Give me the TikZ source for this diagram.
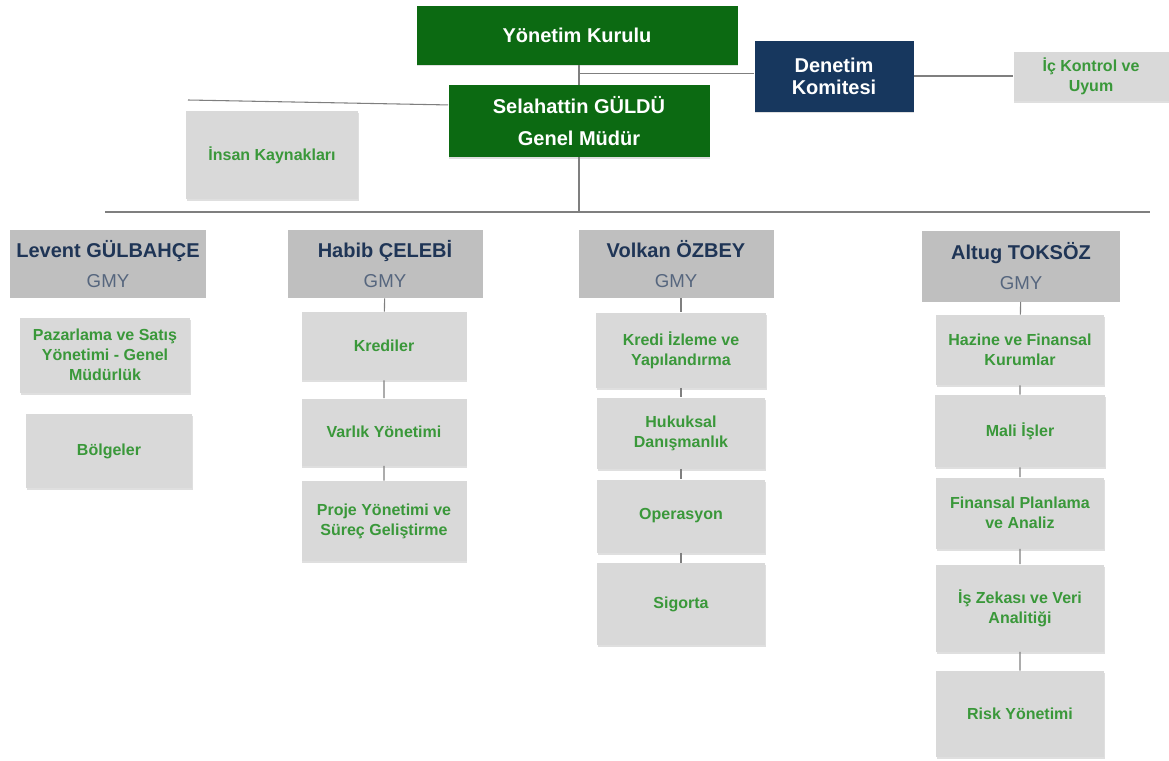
\documentclass[tikz,border=0pt]{standalone}
\usepackage{fontspec}
\setmainfont{Liberation Sans}
\usetikzlibrary{shadows}
\definecolor{boardgreen}{HTML}{0C6A12}
\definecolor{auditnavy}{HTML}{17375E}
\definecolor{unitgray}{HTML}{D9D9D9}
\definecolor{headgray}{HTML}{BFBFBF}
\definecolor{unitgreen}{HTML}{3A983A}
\definecolor{namenavy}{HTML}{1F3556}
\definecolor{gmytext}{HTML}{56667E}
\definecolor{linegray}{HTML}{7F7F7F}
\newcommand{\gmyname}[1]{{\bfseries\fontsize{15}{22}\selectfont\color{namenavy}#1}}

\begin{document}
\begin{tikzpicture}[x=0.75pt,y=-0.75pt,
  sz/.style 2 args={minimum width=#1*0.75pt, minimum height=#2*0.75pt},
  board/.style={fill=boardgreen, text=white, align=center, inner sep=0pt,
    font=\bfseries\fontsize{15}{24}\selectfont,
    drop shadow={shadow xshift=0.6pt, shadow yshift=-1.2pt, opacity=0.25}},
  audit/.style={board, fill=auditnavy, font=\bfseries\fontsize{15}{16.5}\selectfont},
  unit/.style={fill=unitgray, text=unitgreen, align=center, inner sep=0pt,
    font=\bfseries\fontsize{12}{15}\selectfont,
    drop shadow={shadow xshift=0.6pt, shadow yshift=-1.5pt, opacity=0.25}},
  gmy/.style={fill=headgray, text=gmytext, align=center, inner sep=0pt,
    font=\fontsize{14}{22}\selectfont},
  link/.style={draw=linegray, line width=0.8pt}]
\useasboundingbox (0,0) rectangle (1169,760);

% top
\node[board, sz={321}{59}] (yk) at (577,35) {Yönetim Kurulu};
\node[board, sz={261}{72}] (gm) at (579,121) {Selahattin GÜLDÜ\\Genel Müdür};
\node[audit, sz={159}{71}] (dk) at (834,76) {Denetim\\Komitesi};
\node[unit, sz={155}{49}] (ick) at (1091,76) {İç Kontrol ve\\Uyum};
\node[unit, sz={172}{88}] (ik) at (272,155) {İnsan Kaynakları};

\coordinate (ikline) at (188,100);
\coordinate (busl) at (105,212);
\coordinate (busr) at (1150,212);

\draw[link] (yk.south -| gm.north) -- (gm.north);
\draw[link] (dk.178) -- (dk.178 -| gm.north);
\draw[link] (dk) -- (ick);
\draw[link] (ikline) -- (gm.173);
\draw[link] (gm) -- (gm |- busl);
\draw[link, line width=1pt] (busl) -- (busr);

% GMY heads
\node[gmy, sz={196}{68}] (h1) at (108,264) {\gmyname{Levent GÜLBAHÇE}\\GMY};
\node[gmy, sz={195}{68}] (h2) at (385,264) {\gmyname{Habib ÇELEBİ}\\GMY};
\node[gmy, sz={195}{68}] (h3) at (676,264) {\gmyname{Volkan ÖZBEY}\\GMY};
\node[gmy, sz={198}{71}] (h4) at (1021,266) {\gmyname{Altug TOKSÖZ}\\GMY};

% Levent
\node[unit, sz={170}{75}] (u11) at (105,355) {Pazarlama ve Satış\\Yönetimi - Genel\\Müdürlük};
\node[unit, sz={166}{74}] (u12) at (109,451) {Bölgeler};

% Habib
\node[unit, sz={165}{68}] (u21) at (384,346) {Krediler};
\node[unit, sz={165}{67}] (u22) at (384,432) {Varlık Yönetimi};
\node[unit, sz={165}{80}] (u23) at (384,521) {Proje Yönetimi ve\\Süreç Geliştirme};
\draw[link] (h2) -- (u21) -- (u22) -- (u23);

% Volkan
\node[unit, sz={170}{75}] (u31) at (681,350) {Kredi İzleme ve\\Yapılandırma};
\node[unit, sz={168}{71}] (u32) at (681,433) {Hukuksal\\Danışmanlık};
\node[unit, sz={168}{73}] (u33) at (681,516) {Operasyon};
\node[unit, sz={168}{82}] (u34) at (681,604) {Sigorta};
\draw[link] (h3.south -| u31) -- (u31) -- (u32) -- (u33) -- (u34);

% Altug
\node[unit, sz={168}{70}] (u41) at (1020,350) {Hazine ve Finansal\\Kurumlar};
\node[unit, sz={170}{72}] (u42) at (1020,431) {Mali İşler};
\node[unit, sz={168}{71}] (u43) at (1020,513) {Finansal Planlama\\ve Analiz};
\node[unit, sz={168}{87}] (u44) at (1020,608) {İş Zekası ve Veri\\Analitiği};
\node[unit, sz={168}{86}] (u45) at (1020,714) {Risk Yönetimi};
\draw[link] (h4) -- (u41) -- (u42) -- (u43) -- (u44) -- (u45);
\end{tikzpicture}
\end{document}
